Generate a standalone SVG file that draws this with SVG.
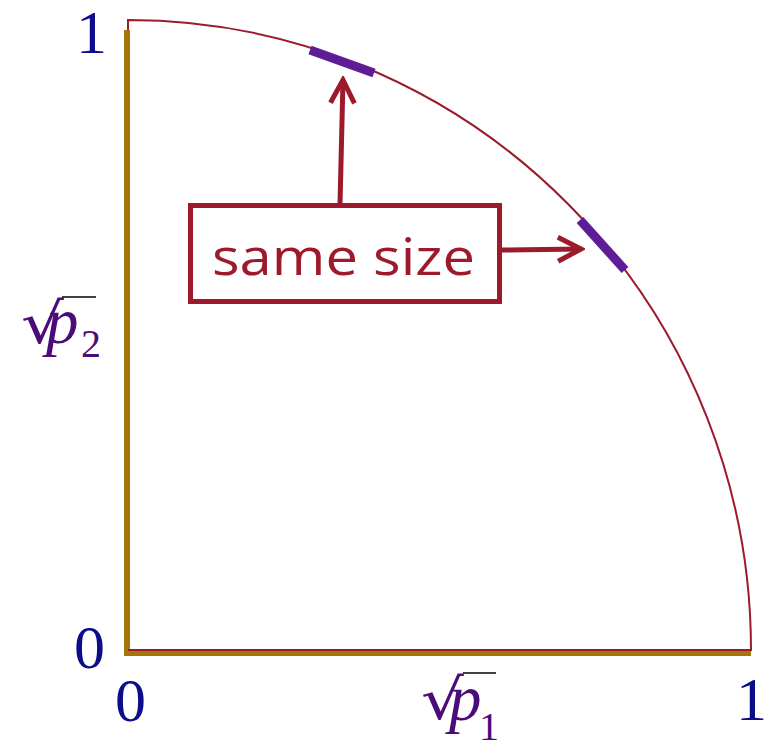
<svg xmlns="http://www.w3.org/2000/svg" width="764" height="743" viewBox="0 0 764 743">
<style>
.num{font-family:"Liberation Serif",serif;font-size:62px;fill:#0d0d8c}
.var{font-family:"Liberation Serif",serif;font-style:italic;font-size:65px;fill:#4b0c7a}
.sub{font-family:"Liberation Serif",serif;font-size:40px;fill:#4b0c7a}
.rad{font-family:"DejaVu Serif",serif;font-size:56px;fill:#4b0c7a}
.red{stroke:#9c1a2c;fill:none}
.gold{fill:#a57508}
.bar{stroke:#5e1d96;stroke-width:9;stroke-linecap:butt;fill:none}
</style>
<defs>
<marker id="ah" viewBox="0 0 30 30" refX="26" refY="15" markerWidth="30" markerHeight="30" markerUnits="userSpaceOnUse" orient="auto">
<path d="M3,3 L26,15 L3,27" fill="none" stroke="#9c1a2c" stroke-width="5"/>
</marker>
</defs>
<rect width="764" height="743" fill="#fff"/>
<g id="quarter">
<path class="red" stroke-width="2" fill="#fff" d="M128,650 L128,20 A623,630 0 0 1 751,650 Z"/>
</g>
<g id="axes">
<rect class="gold" x="124" y="30" width="6" height="626"/>
<rect class="gold" x="124" y="650" width="627" height="6"/>
<line class="red" stroke-width="2" x1="128" y1="650" x2="751" y2="650"/>
</g>
<g id="bars">
<line class="bar" x1="310" y1="50" x2="374" y2="73"/>
<line class="bar" x1="580" y1="220" x2="625" y2="270"/>
</g>
<g id="labels">
<text class="num" x="76" y="53">1</text>
<text class="num" x="74" y="668">0</text>
<text class="num" x="115" y="721">0</text>
<text class="num" x="736" y="720">1</text>
</g>
<g id="p2">
<text class="rad" transform="translate(21,343) scale(1.2,1)">√</text>
<line x1="62" y1="297" x2="96" y2="297" stroke="#000" stroke-width="1.5"/>
<text class="var" x="46" y="343">p</text>
<text class="sub" x="81" y="357">2</text>
</g>
<g id="p1">
<text class="rad" transform="translate(421,719) scale(1.2,1)">√</text>
<line x1="463" y1="673" x2="496" y2="673" stroke="#000" stroke-width="1.5"/>
<text class="var" x="449" y="720">p</text>
<text class="sub" x="479" y="740">1</text>
</g>
<g id="box">
<rect x="190.5" y="205.5" width="309" height="96" fill="#fff" stroke="#9c1a2c" stroke-width="5"/>
<text x="212" y="275" font-family="'Open Sans','Noto Sans',sans-serif" font-size="52" fill="#9c1a2c" textLength="263" lengthAdjust="spacingAndGlyphs">same size</text>
</g>
<g id="connectors">
<line class="red" stroke-width="5" x1="340" y1="204" x2="343" y2="80" marker-end="url(#ah)"/>
<line class="red" stroke-width="5" x1="502" y1="250" x2="581" y2="249" marker-end="url(#ah)"/>
</g>
</svg>
